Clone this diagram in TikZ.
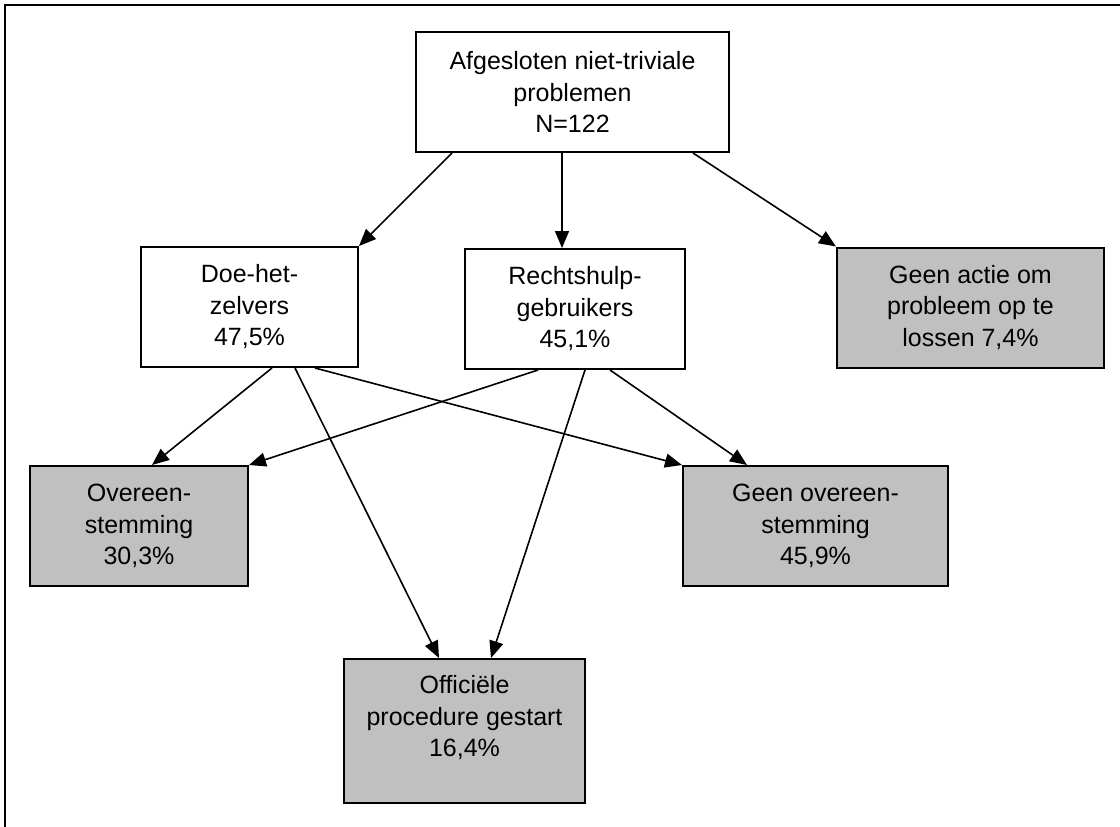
\documentclass[tikz,border=0pt]{standalone}
\usepackage{fontspec}
\setmainfont{Liberation Sans}
\usetikzlibrary{arrows.meta}
\definecolor{zilver}{RGB}{192,192,192}

\begin{document}
\begin{tikzpicture}[x=1pt, y=-1pt, font=\fontsize{25}{31.5}\selectfont, line width=1.6pt, -{Triangle[length=17pt,width=14pt]},
	box/.style={draw, rectangle, line width=2pt, align=center, inner sep=0pt, minimum height=120pt},
	uitkomst/.style={box, fill=zilver}]
	\useasboundingbox (0,0) rectangle (1120,827);
	\draw[-, line width=2.4pt] (5,827) -- (5,5) -- (1120,5);
	\node[box, minimum width=313pt] (top) at (572.5,92) {Afgesloten niet-triviale\\problemen\\N=122};
	\node[box, minimum width=217pt] (doe) at (249.5,307) {Doe-het-\\zelvers\\47,5\%};
	\node[box, minimum width=220pt] (rechts) at (575,309) {Rechtshulp-\\gebruikers\\45,1\%};
	\node[uitkomst, minimum width=267pt] (geenactie) at (970.5,307.5) {Geen actie om\\probleem op te\\lossen 7,4\%};
	\node[uitkomst, minimum width=218pt] (overeen) at (139,526) {Overeen-\\stemming\\30,3\%};
	\node[uitkomst, minimum width=265pt] (geenover) at (815.5,526) {Geen overeen-\\stemming\\45,9\%};
	\node[uitkomst, minimum width=241pt, minimum height=144pt] (officieel) at (464.5,731) {Officiële\\procedure gestart\\16,4\%\rule[-30pt]{0pt}{0pt}};
	\draw ([xshift=-120.5pt]top.south) -- (doe.north east);
	\draw ([xshift=-10.5pt]top.south) -- ([xshift=-10.5pt]top.south |- rechts.north);
	\draw ([xshift=120.5pt]top.south) -- (geenactie.north west);
	\draw ([xshift=22.5pt]doe.south) -- ([xshift=13pt]overeen.north);
	\draw ([xshift=45.5pt]doe.south) -- ([xshift=-25.5pt]officieel.north);
	\draw ([xshift=65.5pt]doe.south) -- (geenover.north west);
	\draw ([xshift=-37pt]rechts.south) -- (overeen.north east);
	\draw ([xshift=10pt]rechts.south) -- ([xshift=26.5pt]officieel.north);
	\draw ([xshift=35pt]rechts.south) -- ([xshift=-68.5pt]geenover.north);
\end{tikzpicture}
\end{document}
